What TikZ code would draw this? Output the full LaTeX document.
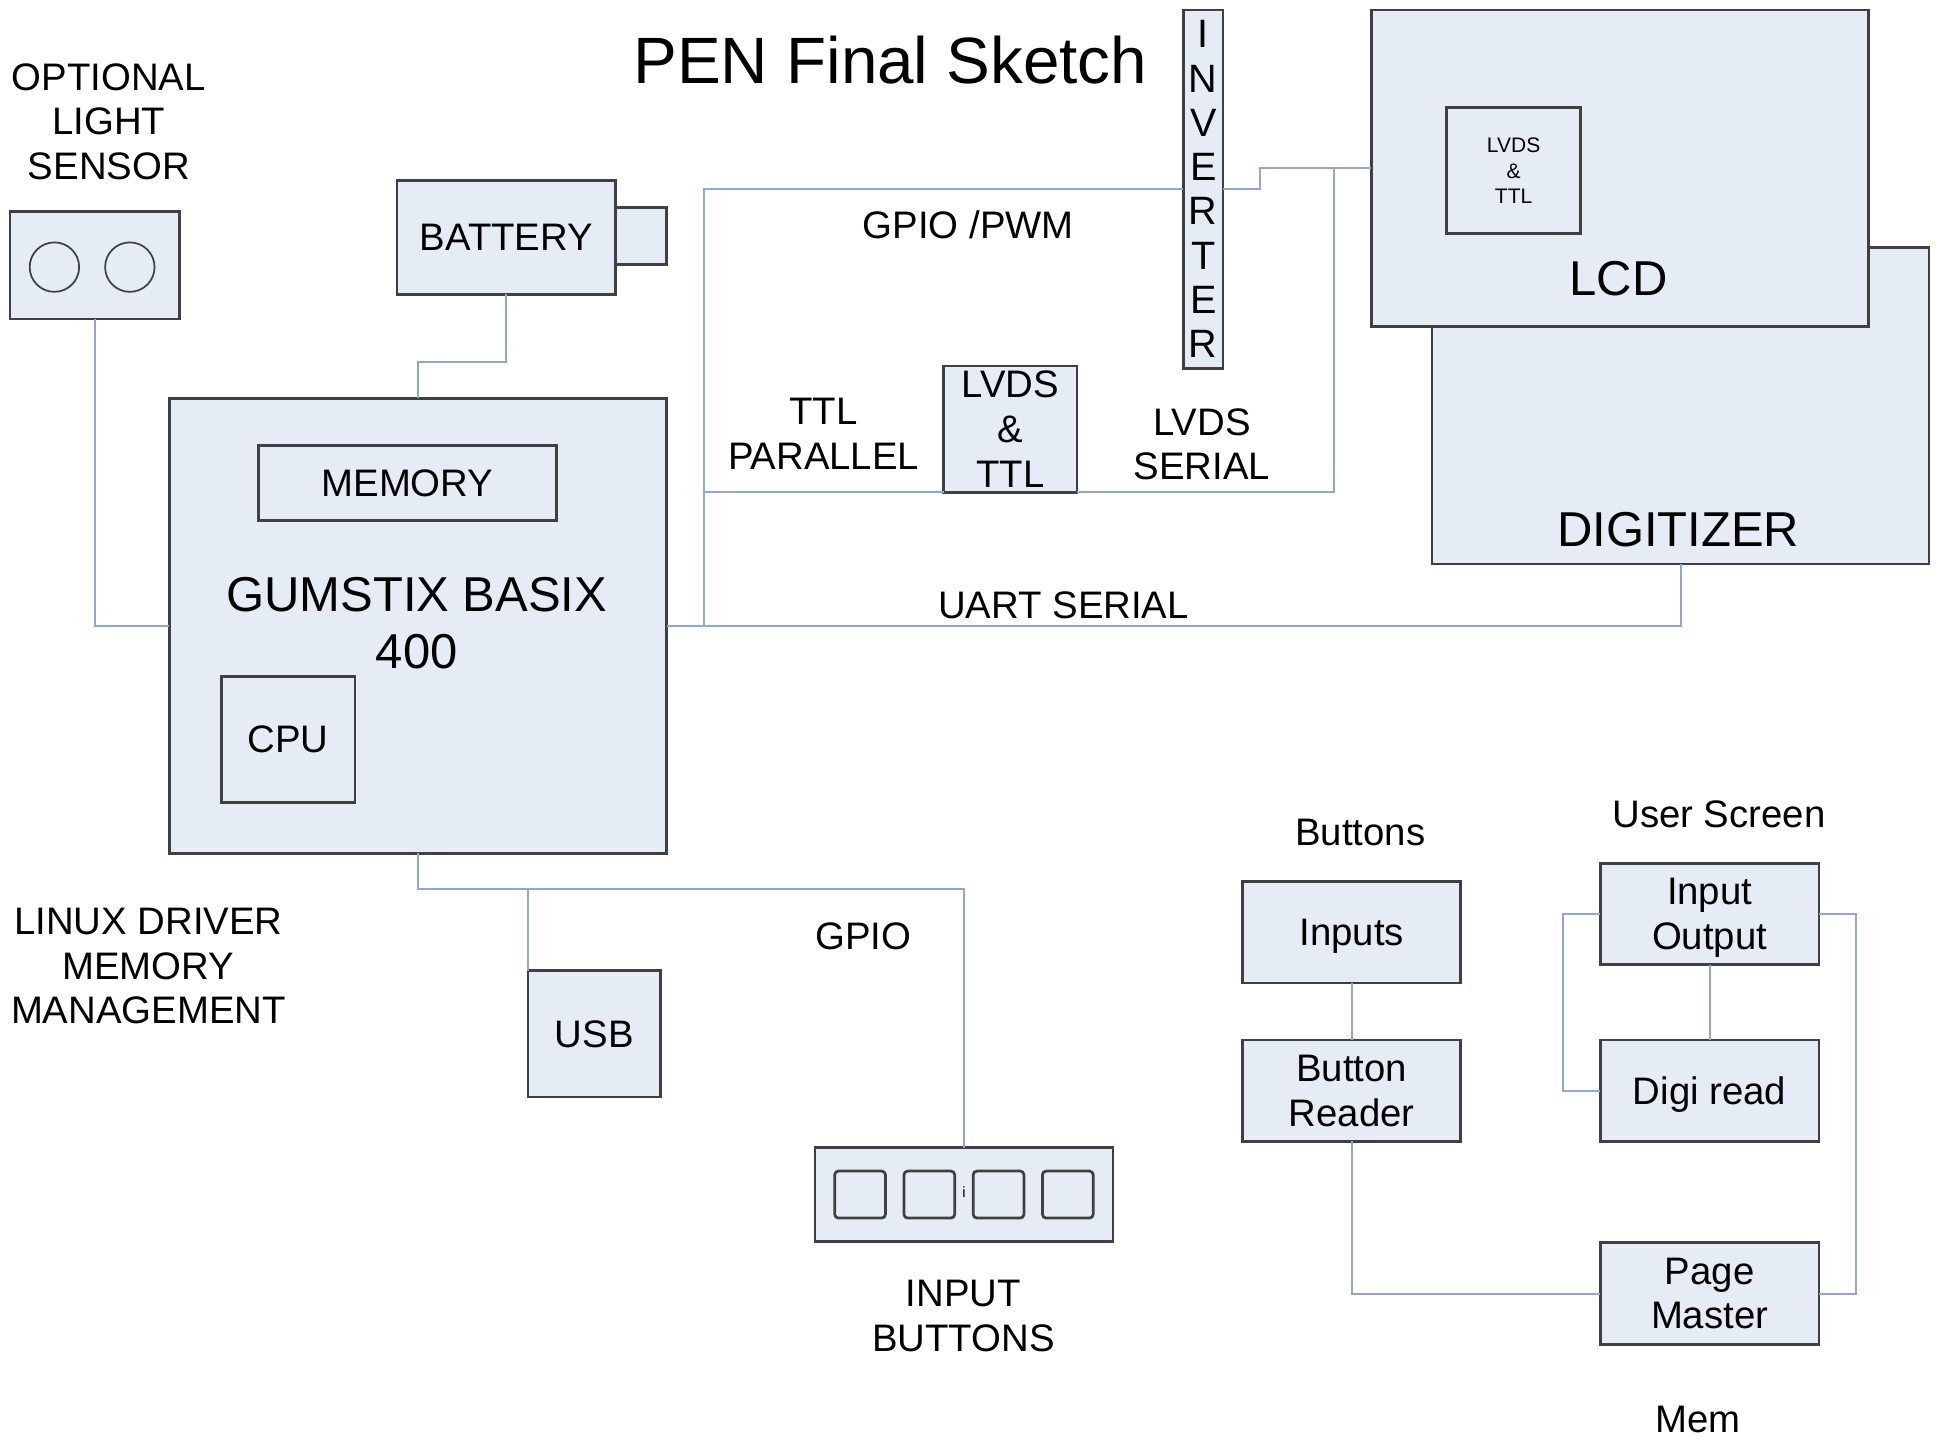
\documentclass[tikz,border=0pt]{standalone}
\usepackage{fontspec}
\setmainfont{Liberation Sans}
\definecolor{boxfill}{HTML}{E6ECF6}
\definecolor{wire}{HTML}{8FA6D6}
\definecolor{edgegray}{HTML}{404040}
\begin{document}
\begin{tikzpicture}[x=0.5pt,y=-0.5pt,
  box/.style={draw=edgegray, fill=boxfill, line width=1.1pt, inner sep=0pt, outer sep=0pt,
              text depth=0pt, align=center, font=\fontsize{15.5}{18}\selectfont},
  keybox/.style={box, rounded corners=1.5pt, minimum width=20.5pt, minimum height=19pt},
  wireline/.style={draw=wire, line width=0.8pt},
  lbl/.style={inner sep=0pt, text depth=0pt, align=center, font=\fontsize{15.5}{18}\selectfont},
  biglbl/.style={lbl, font=\fontsize{19.8}{23}\selectfont},
  ]
\useasboundingbox (0,0) rectangle (1568,1164);

% title and free labels
\node[lbl, font=\fontsize{26.5}{30}\selectfont] (title) at (720,48) {PEN Final Sketch};
\node[lbl] (sensorlbl) at (88,98) {OPTIONAL\\LIGHT\\SENSOR};
\node[lbl] (gpiopwm) at (783,182) {GPIO /PWM};
\node[lbl] (ttlpar) at (666,351) {TTL\\PARALLEL};
\node[lbl] (lvdsser) at (972,359) {LVDS\\SERIAL};
\node[lbl] (uart) at (860,489) {UART SERIAL};
\node[lbl] (linux) at (120,781) {LINUX DRIVER\\MEMORY\\MANAGEMENT};
\node[lbl] (gpio) at (698,757) {GPIO};
\node[lbl] (inbtnlbl) at (779,1064) {INPUT\\BUTTONS};
\node[lbl] (buttonslbl) at (1100,673) {Buttons};
\node[lbl] (userscr) at (1390,658) {User Screen};
\node[lbl] (memlbl) at (1373,1148) {Mem};

% light sensor
\node[box, minimum width=68.5pt, minimum height=43.5pt] (sensor) at (76.5,214.5) {};
\draw[edgegray, line width=0.7pt] (44,216) circle [radius=20];
\draw[edgegray, line width=0.7pt] (105,216) circle [radius=20];

% battery
\node[box, minimum width=88.5pt, minimum height=46pt] (bat) at (409.5,192) {BATTERY};
\node[box, minimum width=20.5pt, minimum height=23pt] (battab) at (518.5,191) {};

% gumstix
\node[box, minimum width=201pt, minimum height=184pt] (gum) at (338,506) {};
\node[biglbl] (gumtxt) at (337,504) {GUMSTIX BASIX\\400};
\node[box, minimum width=120.5pt, minimum height=30.5pt] (mem) at (329.5,390.5) {MEMORY};
\node[box, minimum width=54pt, minimum height=51pt] (cpu) at (233,598) {CPU};

% usb and input buttons
\node[box, minimum width=53.5pt, minimum height=51pt] (usb) at (480.5,836) {USB};
\node[box, minimum width=120.5pt, minimum height=38pt] (btns) at (779.5,966) {};
\node[keybox] (k1) at (695.5,966) {};
\node[keybox] (k2) at (751.5,966) {};
\node[keybox] (k3) at (807.5,966) {};
\node[keybox] (k4) at (863.5,966) {};
\node[lbl, font=\fontsize{6}{7}\selectfont] (ilbl) at (779.5,964) {i};

% LCD, digitizer, inverter
\node[box, minimum width=201pt, minimum height=128pt] (dig) at (1359,328) {};
\node[biglbl] (digtxt) at (1357,428) {DIGITIZER};
\node[box, minimum width=201pt, minimum height=128pt] (lcd) at (1310,136) {};
\node[biglbl] (lcdtxt) at (1309,225) {LCD};
\node[box, minimum width=54pt, minimum height=51pt, font=\fontsize{8.5}{10.25}\selectfont] (lcdin) at (1224,138) {LVDS\\\&\\TTL};
\node[box, minimum width=16pt, minimum height=145pt, font=\fontsize{16}{17.9}\selectfont] (inv) at (973,153) {I\\N\\V\\E\\R\\T\\E\\R};
\node[box, minimum width=54pt, minimum height=51pt] (lvds) at (817,347) {LVDS\\\&\\TTL};

% bottom-right blocks
\node[box, minimum width=88pt, minimum height=41pt] (inputs) at (1093,754) {Inputs};
\node[box, minimum width=88pt, minimum height=41pt] (breader) at (1093,882) {Button\\Reader};
\node[box, minimum width=88.5pt, minimum height=41pt] (io) at (1382.5,739) {Input\\Output};
\node[box, minimum width=88.5pt, minimum height=41pt] (digi) at (1382.5,882) {Digi read};
\node[box, minimum width=88.5pt, minimum height=41pt] (page) at (1382.5,1046) {Page\\Master};

% connectors
\coordinate (batj) at (338,293);
\coordinate (gumj) at (338,719);
\coordinate (usbj) at (427,719);
\coordinate (busx) at (569,506);
\coordinate (lcdj) at (1079,136);

\draw[wireline] (sensor.south) |- (gum.west);
\draw[wireline] (bat.south) |- (batj) -- (gum.north);
\draw[wireline] (gum.south) -- (gumj) -| (btns.north);
\draw[wireline] (usbj) -- (usb.north west);
\draw[wireline] (gum.east) -| (dig.south);
\draw[wireline] (busx) |- (inv.west);
\draw[wireline] (busx |- lvds.south) -- (lvds.south west);
\draw[wireline] (lvds.south east) -| (lcdj) -- (lcd.west);
\draw[wireline] (inv.east) -- ++(30,0) |- (lcdj);

\draw[wireline] (inputs) -- (breader);
\draw[wireline] (breader.south) |- (page.west);
\draw[wireline] (io) -- (digi);
\draw[wireline] (io.west) -- ++(-30,0) |- (digi.west);
\draw[wireline] (io.east) -- ++(30,0) |- (page.east);
\end{tikzpicture}
\end{document}
